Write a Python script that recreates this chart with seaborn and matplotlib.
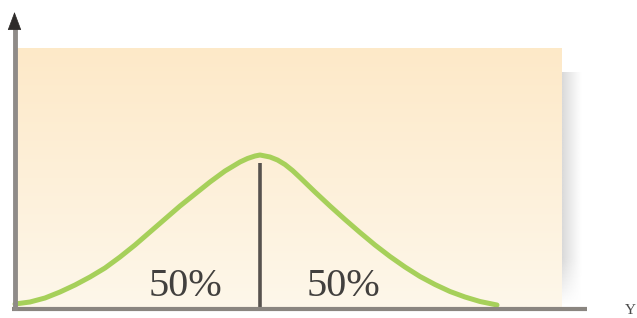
import numpy as np
import pandas as pd
import matplotlib
matplotlib.use("Agg")
import matplotlib.pyplot as plt
from matplotlib.colors import LinearSegmentedColormap
import seaborn as sns

# curve: position along Y (px from the vertical axis) and height
curve_x = [0, 15, 30, 45, 60, 75, 90, 105, 120, 135, 150, 165, 180, 195, 210, 225,
           232.5, 240, 245, 255, 262.5, 270, 277.5, 285, 300, 315, 330, 345, 360,
           375, 390, 405, 420, 435, 450, 465, 482]
curve_y = [3, 5, 9, 15, 22, 30, 39, 50, 62, 75, 88, 101, 113, 125, 136, 145,
           148.5, 151, 152, 150, 147, 142.5, 136.5, 129.5, 115, 101, 87.5, 74.5, 62,
           50.5, 40, 30.5, 22.5, 15.5, 10, 5.5, 2]
mean_x = 245
peak_y = 152
labels = ["50%", "50%"]
label_x = [170, 328]
axis_label = "Y"

df = pd.DataFrame({"x": curve_x, "y": curve_y})

sns.set_style("white")
plt.rcParams["font.family"] = ["Liberation Serif", "DejaVu Serif"]

fig = plt.figure(figsize=(6.37, 3.18), dpi=100)
ax = fig.add_axes([0, 0, 1, 1])

# peach gradient panel
bg = LinearSegmentedColormap.from_list("bg", ["#fef7ea", "#fde9c8"])
grad = np.linspace(0, 1, 256).reshape(-1, 1)
ax.imshow(grad, cmap=bg, origin="lower", aspect="auto",
          extent=[2, 547, 0, 259], zorder=0)

# soft shadow on the right of the panel
sh = np.zeros((64, 32, 4))
sh[..., :3] = 0.80
fade_x = np.linspace(0.75, 0.0, 32) ** 1.1
fade_y = np.clip(np.linspace(0, 1, 64) * 5, 0, 1)[::-1]
sh[..., 3] = fade_y[:, None] * fade_x[None, :]
ax.imshow(sh, origin="upper", aspect="auto", extent=[547, 567, 0, 235], zorder=0.5)

# axes
ax.plot([-3, 572], [-2, -2], color="#8a8580", lw=3, solid_capstyle="butt", zorder=3)
ax.plot([-0.5, -0.5], [-3, 282], color="#8f8b88", lw=3.5, solid_capstyle="butt", zorder=3)
ax.annotate("", xy=(-0.5, 295), xytext=(-0.5, 280),
            arrowprops=dict(arrowstyle="-|>,head_length=1.2,head_width=0.45",
                            color="#2e2b2a", lw=0.5, mutation_scale=10,
                            shrinkA=0, shrinkB=0), zorder=4)

# the curve
sns.lineplot(data=df, x="x", y="y", ax=ax, color="#a6d05a", lw=3.6,
             sort=False, zorder=2, solid_joinstyle="round", solid_capstyle="round")

# mean line
ax.plot([mean_x, mean_x], [-2, peak_y - 8], color="#57524e", lw=2.6,
        solid_capstyle="butt", zorder=1.5)

for lx, t in zip(label_x, labels):
    ax.text(lx, 21, t, ha="center", va="center", fontsize=29, color="#42403e")
ax.text(615, -4, axis_label, ha="center", va="center", fontsize=11, color="#4a4a4a")

ax.set_xlim(-15, 622)
ax.set_ylim(-11, 307)
ax.axis("off")

fig.savefig("out.png", dpi=100, facecolor="white")
